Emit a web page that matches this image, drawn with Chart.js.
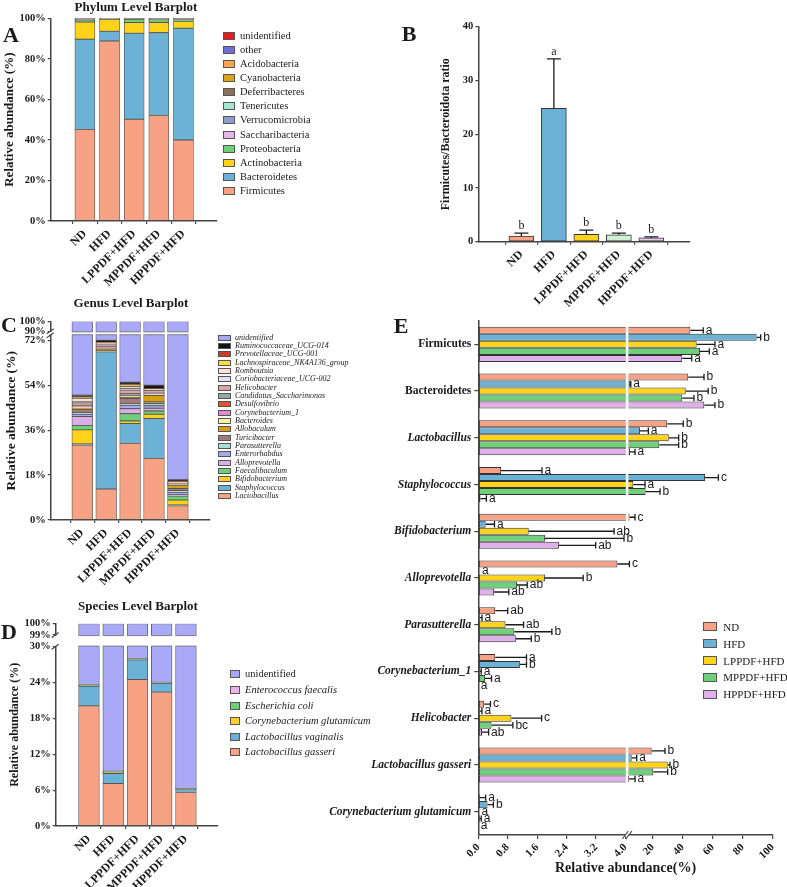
<!DOCTYPE html>
<html>
<head>
<meta charset="utf-8">
<script src="https://cdn.jsdelivr.net/npm/chart.js@4.4.0/dist/chart.umd.min.js"></script>
<style>
  body { margin: 0; background: #fff; }
  #wrap { position: relative; width: 787px; height: 887px; overflow: hidden; background: #fff;
          font-family: 'Liberation Serif', serif; color: #1a1a1a; }
  #wrap canvas { position: absolute; left: 0; top: 0; }
  .t { position: absolute; transform: translate(-50%, -50%); white-space: nowrap; font-weight: bold; line-height: 1; }
  .row { position: absolute; }
  .row .b { position: absolute; box-sizing: border-box; border: 1px solid #555; }
  .row .tx { position: absolute; top: 0; transform: translateY(-50%); white-space: nowrap; line-height: 1; }
</style>
</head>
<body>
<div id="wrap">
  <canvas id="cA" width="787" height="887"></canvas>
  <canvas id="cB" width="787" height="887"></canvas>
  <canvas id="cC" width="787" height="887"></canvas>
  <canvas id="cD" width="787" height="887"></canvas>
  <canvas id="cE" width="787" height="887"></canvas>

  <div class="t" style="left:136px;top:6px;font-size:13px">Phylum Level Barplot</div>
  <div class="t" style="left:131px;top:302px;font-size:13px">Genus Level Barplot</div>
  <div class="t" style="left:138px;top:605px;font-size:13px">Species Level Barplot</div>
  <div class="t" style="left:11px;top:35px;font-size:22px">A</div>
  <div class="t" style="left:409px;top:34px;font-size:22px">B</div>
  <div class="t" style="left:9px;top:325px;font-size:22px">C</div>
  <div class="t" style="left:9px;top:632px;font-size:22px">D</div>
  <div class="t" style="left:401px;top:326px;font-size:22px">E</div>
</div>

<script>
const groups = ['ND', 'HFD', 'LPPDF+HFD', 'MPPDF+HFD', 'HPPDF+HFD'];

// A: phylum level, % per group, listed from the bottom of the stack up
const phylumNames = ['Firmicutes', 'Bacteroidetes', 'Actinobacteria', 'Proteobacteria', 'Saccharibacteria',
  'Verrucomicrobia', 'Tenericutes', 'Deferribacteres', 'Cyanobacteria', 'Acidobacteria', 'other', 'unidentified'];
const phylumND    = [45.2, 44.5, 8.5, 0.9, 0.1, 0.1, 0.2, 0.1, 0.1, 0.1, 0.1, 0.1];
const phylumHFD   = [88.8, 4.8, 5.9, 0.2, 0.05, 0.05, 0.05, 0.05, 0.05, 0, 0.05, 0];
const phylumLPPDF = [50.2, 42.4, 5.3, 1.6, 0.1, 0.1, 0.1, 0.05, 0.05, 0, 0.05, 0.05];
const phylumMPPDF = [52.1, 40.8, 5.0, 1.4, 0.2, 0.1, 0.2, 0.05, 0.05, 0, 0.05, 0.05];
const phylumHPPDF = [40.0, 55.1, 3.3, 1.0, 0.2, 0.1, 0.1, 0.05, 0.05, 0, 0.05, 0.05];
const phylumTicks = [0, 20, 40, 60, 80, 100];

// B: Firmicutes/Bacteroidota ratio
const fbRatio   = [1.05, 24.8, 1.36, 1.3, 0.7];
const fbError   = [0.55, 9.2, 0.8, 0.3, 0.2];
const fbLetters = ['b', 'a', 'b', 'b', 'b'];

// C: genus level
const genusNames = ['Lactobacillus', 'Staphylococcus', 'Bifidobacterium', 'Faecalibaculum', 'Alloprevotella',
  'Enterorhabdus', 'Parasutterella', 'Turicibacter', 'Allobaculum', 'Bacteroides', 'Corynebacterium_1',
  'Desulfovibrio', 'Candidatus_Saccharimonas', 'Helicobacter', 'Coriobacteriaceae_UCG-002', 'Romboutsia',
  'Lachnospiraceae_NK4A136_group', 'Prevotellaceae_UCG-001', 'Ruminococcaceae_UCG-014', 'unidentified'];
const genusND    = [30.0, 0.5, 5.6, 1.7, 3.7, 0.9, 0.5, 1.5, 0.4, 0.4, 0.4, 0.3, 0.6, 0.5, 0.3, 1.5, 0.3, 0.2, 0.7, 50.0];
const genusHFD   = [12.4, 55.0, 0.1, 0.2, 0.0, 0.1, 0.0, 0.8, 0.1, 0.2, 0.5, 0.2, 0.3, 0.0, 0.4, 0.6, 0.1, 0.1, 0.9, 28.0];
const genusLPPDF = [30.7, 8.0, 1.0, 2.9, 2.0, 1.4, 0.5, 2.2, 0.3, 0.8, 0.1, 0.1, 0.6, 1.5, 0.6, 0.7, 0.8, 0.2, 0.8, 44.8];
const genusMPPDF = [24.7, 16.0, 1.7, 1.3, 1.1, 1.0, 0.9, 0.6, 2.6, 0.7, 0.1, 0.1, 0.3, 0.9, 0.3, 0.1, 0.1, 0.1, 1.4, 46.0];
const genusHPPDF = [5.7, 0.3, 2.0, 1.6, 0.5, 1.0, 0.6, 0.9, 1.2, 0.5, 0.1, 0.1, 0.2, 0.1, 0.1, 0.1, 0.3, 0.1, 0.7, 83.9];
const genusTicks = [0, 18, 36, 54, 72, 90, 100];

// D: species level
const speciesNames = ['Lactobacillus gasseri', 'Lactobacillus vaginalis', 'Corynebacterium glutamicum',
  'Escherichia coli', 'Enterococcus faecalis', 'unidentified'];
const speciesND    = [20.1, 3.3, 0.1, 0.05, 0.05, 76.4];
const speciesHFD   = [7.1, 1.7, 0.2, 0.1, 0.05, 90.85];
const speciesLPPDF = [24.5, 3.3, 0.05, 0.05, 0.05, 72.05];
const speciesMPPDF = [22.4, 1.5, 0.05, 0.05, 0.05, 75.95];
const speciesHPPDF = [5.6, 0.5, 0.05, 0.05, 0.05, 93.75];
const speciesTicks = [0, 6, 12, 18, 24, 30, 99, 100];

// E: relative abundance of key taxa (mean, error, significance letters)
const eTaxa = ['Firmicutes', 'Bacteroidetes', 'Lactobacillus', 'Staphylococcus', 'Bifidobacterium',
  'Alloprevotella', 'Parasutterella', 'Corynebacterium_1', 'Helicobacter', 'Lactobacillus gasseri',
  'Corynebacterium glutamicum'];
const eND        = [45.1, 43.7, 29.7, 0.62, 4.6, 3.78, 0.46, 0.46, 0.16, 19.3, 0.04];
const eNDErr     = [8.6, 10.5, 10.7, 1.11, 3.6, 0.7, 0.34, 0.85, 0.17, 8.9, 0.16];
const eNDSig     = ['a', 'b', 'b', 'a', 'c', 'c', 'ab', 'a', 'c', 'b', 'a'];
const eHFD       = [89.3, 4.8, 11.5, 54.9, 0.20, 0.03, 0.04, 1.13, 0.04, 6.0, 0.25];
const eHFDErr    = [2.7, 0.6, 5.6, 8.9, 0.24, 0, 0.06, 0.18, 0.06, 3.3, 0.16];
const eHFDSig    = ['b', 'a', 'a', 'c', 'a', 'a', 'a', 'b', 'a', 'a', 'b'];
const eLPPDF     = [49.3, 42.0, 30.7, 7.1, 1.37, 1.81, 0.74, 0.04, 0.9, 30.0, 0.01];
const eLPPDFErr  = [12.2, 15.0, 6.6, 7.8, 2.32, 1.04, 0.49, 0.04, 0.82, 1.5, 0.01];
const eLPPDFSig  = ['a', 'b', 'b', 'a', 'ab', 'b', 'ab', 'a', 'c', 'b', 'a'];
const eMPPDF     = [51.5, 39.7, 24.4, 15.3, 1.81, 1.05, 0.98, 0.18, 0.36, 20.4, 0.04];
const eMPPDFErr  = [6.2, 7.8, 12.9, 9.6, 2.15, 0.28, 1.02, 0.18, 0.58, 9.6, 0.04];
const eMPPDFSig  = ['a', 'b', 'b', 'b', 'b', 'ab', 'b', 'a', 'bc', 'b', 'a'];
const eHPPDF     = [39.7, 54.4, 4.9, 0.06, 2.19, 0.43, 1.02, 0, 0.1, 4.2, 0];
const eHPPDFErr  = [6.3, 7.1, 3.3, 0.16, 1.0, 0.4, 0.42, 0, 0.18, 4.0, 0];
const eHPPDFSig  = ['a', 'b', 'a', 'a', 'ab', 'ab', 'b', 'a', 'ab', 'a', 'a'];
const eTicks      = [0, 0.8, 1.6, 2.4, 3.2, 4, 20, 40, 60, 80, 100];
const eTickLabels = ['0.0', '0.8', '1.6', '2.4', '3.2', '4.0', '20', '40', '60', '80', '100'];

// colours
const salmon = '#F8A285', blue = '#6BB2D6', yellow = '#FFD31A', green = '#6FD07A', lilac = '#DFB0EA', lavender = '#A9A9F7';
const phylumColors = [salmon, blue, yellow, green, '#E8B5E8', '#8E9DC3', '#A8E4D4', '#8B6F5E', '#D6A712', '#F9A54D', '#6F6FDB', '#E41A1C'];
const genusColors = [salmon, blue, yellow, green, '#DCAEE6', '#A5AEE6', '#ABDED8', '#A27A7A', '#D4A20E', '#FAF3A0',
  '#E08BD0', '#E5522A', '#98A6AA', '#D9A3A3', '#E9E0F5', '#FBE3D3', '#F4E03C', '#CC3B2B', '#151515', lavender];
const speciesColors = [salmon, blue, yellow, green, '#E8B5E8', lavender];
const groupColors = [salmon, blue, yellow, green, lilac];
const ratioColors = [salmon, blue, yellow, '#CFF0D2', '#E9C9F0'];

// broken axes
const toAxisC = v => v <= 74 ? v : v >= 90 ? 75.6 + (v - 90) * 0.393 : 74 + (v - 74) / 16 * 1.6;
const toAxisD = v => v <= 30 ? v : v >= 99 ? 31.96 + (v - 99) * 1.891 : 30 + (v - 30) / 69 * 1.96;
const toAxisE = v => v <= 4 ? v * 36.8 : 174.4 + (v - 20) * 1.5;

Chart.defaults.font.family = "'Liberation Serif', serif";
Chart.defaults.color = '#1a1a1a';
Chart.defaults.plugins.legend.display = false;
Chart.defaults.plugins.tooltip.enabled = false;

const axisGrid = { display: true, drawOnChartArea: false, drawTicks: true, tickLength: 3, tickColor: '#444', lineWidth: 1.2 };
const axisBorder = { display: true, color: '#444', width: 1.5 };

function groupAxis(min, max, height, size) {
  return {
    type: 'linear', min, max, stacked: true,
    afterBuildTicks: s => { s.ticks = groups.map((g, i) => ({ value: i })); },
    afterFit: s => { s.height = height; },
    ticks: { callback: v => groups[v], autoSkip: false, minRotation: 45, maxRotation: 45, padding: 3,
             font: { size: size, weight: 'bold' } },
    grid: axisGrid, border: axisBorder
  };
}

function yTitle(text, size, pad) {
  return { display: true, text, font: { size, weight: 'bold' }, padding: { top: pad, bottom: 0 } };
}

function transpose(rows) { return rows[0].map((_, k) => rows.map(r => r[k])); }

function floating(rows, map) {
  return rows[0].map((_, k) => rows.map((r, i) => {
    const lo = r.slice(0, k).reduce((a, b) => a + b, 0);
    const hi = k === r.length - 1 ? 100 : lo + r[k];
    return { x: i, y: [map(lo), map(hi)] };
  }));
}

function htmlLegend(names, colors, o) {
  const wrap = document.getElementById('wrap');
  names.forEach((n, i) => {
    const row = document.createElement('div');
    row.className = 'row';
    row.style.left = o.x + 'px';
    row.style.top = (o.y + i * o.dy) + 'px';
    const box = document.createElement('span');
    box.className = 'b';
    box.style.cssText = `left:0;top:${-o.bh / 2}px;width:${o.bw}px;height:${o.bh}px;background:${colors[i]}`;
    const txt = document.createElement('span');
    txt.className = 'tx';
    txt.textContent = n;
    txt.style.cssText = `left:${o.tx}px;font-size:${o.size}px;font-style:${o.italic(i) ? 'italic' : 'normal'}`;
    row.append(box, txt);
    wrap.appendChild(row);
  });
}

// error bars + significance letters, reads dataset.errTo / dataset.marks
const errorBars = {
  id: 'errorBars',
  afterDatasetsDraw(chart, args, o) {
    const ctx = chart.ctx;
    const horiz = chart.options.indexAxis === 'y';
    const vs = horiz ? chart.scales.x : chart.scales.y;
    ctx.save();
    ctx.strokeStyle = '#1a1a1a';
    ctx.fillStyle = '#1a1a1a';
    ctx.lineWidth = 1.3;
    ctx.font = o.font;
    chart.data.datasets.forEach((ds, di) => {
      chart.getDatasetMeta(di).data.forEach((bar, i) => {
        const tip = vs.getPixelForValue(ds.errTo[i]);
        ctx.beginPath();
        if (horiz) {
          if (tip - bar.x > 0.5) {
            ctx.moveTo(bar.x, bar.y); ctx.lineTo(tip, bar.y);
            ctx.moveTo(tip, bar.y - o.cap); ctx.lineTo(tip, bar.y + o.cap);
          }
          ctx.stroke();
          ctx.textAlign = 'left';
          ctx.textBaseline = 'middle';
          ctx.fillText(ds.marks[i], Math.max(tip, bar.x) + o.gap, bar.y);
        } else {
          ctx.moveTo(bar.x, bar.y); ctx.lineTo(bar.x, tip);
          ctx.moveTo(bar.x - o.cap, tip); ctx.lineTo(bar.x + o.cap, tip);
          ctx.stroke();
          ctx.textAlign = 'center';
          ctx.textBaseline = 'bottom';
          ctx.fillText(ds.marks[i], bar.x, tip - o.gap);
        }
      });
    });
    ctx.restore();
  }
};

// white gap for vertical broken axes (C, D)
function yBreak(lowTop, highBottom) {
  return {
    id: 'yBreak',
    afterDraw(chart) {
      const { ctx, chartArea: a, scales: { y } } = chart;
      const y1 = y.getPixelForValue(highBottom), y2 = y.getPixelForValue(lowTop);
      ctx.save();
      ctx.fillStyle = '#fff';
      ctx.fillRect(a.left - 3, y1 + 0.6, a.right - a.left + 6, y2 - y1 - 1.2);
      ctx.strokeStyle = '#666';
      ctx.lineWidth = 0.8;
      const meta = chart.getDatasetMeta(chart.data.datasets.length - 1);
      meta.data.forEach(b => {
        ctx.beginPath();
        ctx.moveTo(b.x - b.width / 2, y1 + 0.6); ctx.lineTo(b.x + b.width / 2, y1 + 0.6);
        ctx.moveTo(b.x - b.width / 2, y2 - 0.6); ctx.lineTo(b.x + b.width / 2, y2 - 0.6);
        ctx.stroke();
      });
      ctx.strokeStyle = '#444';
      ctx.lineWidth = 1.2;
      [y1, y2].forEach(p => {
        ctx.beginPath(); ctx.moveTo(a.left - 4, p + 2.5); ctx.lineTo(a.left + 3, p - 2.5); ctx.stroke();
      });
      ctx.restore();
    }
  };
}

// white gap for the horizontal broken axis (E)
const xBreakE = {
  id: 'xBreakE',
  afterDatasetsDraw(chart) {
    const { ctx, chartArea: a, scales: { x } } = chart;
    const px = (x.getPixelForValue(toAxisE(4)) + x.getPixelForValue(toAxisE(4.01))) / 2;
    ctx.save();
    ctx.fillStyle = '#fff';
    ctx.fillRect(px - 1.3, a.top, 2.6, a.bottom - a.top - 3);
    ctx.restore();
  },
  afterDraw(chart) {
    const { ctx, chartArea: a, scales: { x } } = chart;
    const px = (x.getPixelForValue(toAxisE(4)) + x.getPixelForValue(toAxisE(4.01))) / 2;
    ctx.save();
    ctx.fillStyle = '#fff';
    ctx.fillRect(px - 1.5, a.bottom - 2, 3, 4);
    ctx.strokeStyle = '#444';
    ctx.lineWidth = 1.1;
    [-1.8, 1.8].forEach(d => {
      ctx.beginPath(); ctx.moveTo(px + d - 3, a.bottom + 4); ctx.lineTo(px + d + 3, a.bottom - 4); ctx.stroke();
    });
    ctx.restore();
  }
};

// ---------- A ----------
const phylumRows = [phylumND, phylumHFD, phylumLPPDF, phylumMPPDF, phylumHPPDF];
new Chart(document.getElementById('cA'), {
  type: 'bar',
  data: {
    datasets: transpose(phylumRows).map((vals, k) => ({
      label: phylumNames[k],
      data: vals.map((v, i) => ({ x: i, y: v })),
      backgroundColor: phylumColors[k], borderColor: '#555', borderWidth: 0.8, borderSkipped: false,
      barThickness: 20
    }))
  },
  options: {
    responsive: false, animation: false, devicePixelRatio: 1,
    layout: { padding: { left: 0, right: 570.3, top: 18.3, bottom: 0 } },
    scales: {
      x: groupAxis(-0.714, 4.675, 666, 12),
      y: {
        min: 0, max: 100, stacked: true,
        afterBuildTicks: s => { s.ticks = phylumTicks.map(v => ({ value: v })); },
        afterFit: s => { s.width = 50.7; },
        ticks: { callback: v => v + '%', padding: 2, font: { size: 10.5, weight: 'bold' } },
        title: yTitle('Relative abundance (%)', 13, 2.2),
        grid: axisGrid, border: axisBorder
      }
    }
  }
});

// ---------- B ----------
new Chart(document.getElementById('cB'), {
  type: 'bar',
  data: {
    datasets: [{
      label: 'Firmicutes/Bacteroidota ratio',
      data: fbRatio.map((v, i) => ({ x: i, y: v })),
      errTo: fbRatio.map((v, i) => v + fbError[i]),
      marks: fbLetters,
      backgroundColor: ratioColors, borderColor: '#333', borderWidth: 1, borderSkipped: false,
      barThickness: 25
    }]
  },
  options: {
    responsive: false, animation: false, devicePixelRatio: 1,
    layout: { padding: { left: 438.8, right: 97, top: 26.7, bottom: 0 } },
    plugins: { errorBars: { cap: 7, gap: 1, font: "12px 'Liberation Serif'" } },
    scales: {
      x: groupAxis(-0.675, 4.539, 645.3, 12),
      y: {
        min: 0, max: 40,
        ticks: { stepSize: 10, padding: 2, font: { size: 10.5, weight: 'bold' } },
        afterFit: s => { s.width = 39.5; },
        title: yTitle('Firmicutes/Bacteroidota ratio', 12, 0),
        grid: axisGrid, border: axisBorder
      }
    }
  },
  plugins: [errorBars]
});

// ---------- C ----------
const genusRows = [genusND, genusHFD, genusLPPDF, genusMPPDF, genusHPPDF];
new Chart(document.getElementById('cC'), {
  type: 'bar',
  data: {
    datasets: floating(genusRows, toAxisC).map((pts, k) => ({
      label: genusNames[k], data: pts,
      backgroundColor: genusColors[k], borderColor: '#555', borderWidth: 0.8, borderSkipped: false,
      barThickness: 20.7
    }))
  },
  options: {
    responsive: false, animation: false, devicePixelRatio: 1,
    layout: { padding: { left: 0, right: 577.7, top: 321.5, bottom: 0 } },
    scales: {
      x: groupAxis(-0.656, 4.649, 367, 12),
      y: {
        min: 0, max: toAxisC(100), stacked: false,
        afterBuildTicks: s => { s.ticks = genusTicks.map(v => ({ value: toAxisC(v) })); },
        afterFit: s => { s.width = 50.7; },
        ticks: { callback: (v, i) => genusTicks[i] + '%', padding: 2, font: { size: 10.5, weight: 'bold' } },
        title: yTitle('Relative abundance (%)', 13.5, 3.6),
        grid: axisGrid, border: axisBorder
      }
    }
  },
  plugins: [yBreak(74, toAxisC(90))]
});

// ---------- D ----------
const speciesRows = [speciesND, speciesHFD, speciesLPPDF, speciesMPPDF, speciesHPPDF];
new Chart(document.getElementById('cD'), {
  type: 'bar',
  data: {
    datasets: floating(speciesRows, toAxisD).map((pts, k) => ({
      label: speciesNames[k], data: pts,
      backgroundColor: speciesColors[k], borderColor: '#555', borderWidth: 0.8, borderSkipped: false,
      barThickness: 20.7
    }))
  },
  options: {
    responsive: false, animation: false, devicePixelRatio: 1,
    layout: { padding: { left: 0, right: 569, top: 623.7, bottom: 0 } },
    scales: {
      x: groupAxis(-0.703, 4.653, 61, 12),
      y: {
        min: 0, max: toAxisD(100), stacked: false,
        afterBuildTicks: s => { s.ticks = speciesTicks.map(v => ({ value: toAxisD(v) })); },
        afterFit: s => { s.width = 55.7; },
        ticks: { callback: (v, i) => speciesTicks[i] + '%', padding: 2, font: { size: 10.5, weight: 'bold' } },
        title: yTitle('Relative abundance (%)', 12, 7.8),
        grid: axisGrid, border: axisBorder
      }
    }
  },
  plugins: [yBreak(30, toAxisD(99))]
});

// ---------- E ----------
const eValues = [eND, eHFD, eLPPDF, eMPPDF, eHPPDF];
const eErrors = [eNDErr, eHFDErr, eLPPDFErr, eMPPDFErr, eHPPDFErr];
const eSig = [eNDSig, eHFDSig, eLPPDFSig, eMPPDFSig, eHPPDFSig];
new Chart(document.getElementById('cE'), {
  type: 'bar',
  data: {
    labels: eTaxa,
    datasets: groups.map((g, j) => ({
      label: g,
      data: eValues[j].map(toAxisE),
      errTo: eValues[j].map((v, i) => toAxisE(v + eErrors[j][i])),
      marks: eSig[j],
      backgroundColor: groupColors[j], borderColor: '#333', borderWidth: 1, borderSkipped: false,
      categoryPercentage: 0.75, barPercentage: 1
    }))
  },
  options: {
    indexAxis: 'y',
    responsive: false, animation: false, devicePixelRatio: 1,
    layout: { padding: { left: 0, right: 14.3, top: 321, bottom: 0 } },
    plugins: { errorBars: { cap: 3.2, gap: 2.5, font: "12px 'Liberation Sans'" } },
    scales: {
      x: {
        type: 'linear', min: 0, max: toAxisE(100),
        afterBuildTicks: s => { s.ticks = eTicks.map(v => ({ value: toAxisE(v) })); },
        afterFit: s => { s.height = 52; },
        ticks: { callback: (v, i) => eTickLabels[i], autoSkip: false, minRotation: 45, maxRotation: 45, padding: 2,
                 font: { size: 11, weight: 'bold' } },
        title: { display: true, text: 'Relative abundance(%)', font: { size: 14, weight: 'bold' },
                 padding: { top: 0, bottom: 10.6 } },
        grid: { ...axisGrid, tickLength: 4 }, border: axisBorder
      },
      y: {
        afterFit: s => { s.width = 478.3; },
        ticks: { padding: 3, font: ctx => ({ size: 11.5, weight: 'bold', style: ctx.index < 2 ? 'normal' : 'italic' }) },
        grid: { ...axisGrid, tickLength: 4, offset: false }, border: axisBorder
      }
    }
  },
  plugins: [xBreakE, errorBars]
});

// ---------- legends ----------
const rev = a => a.slice().reverse();
htmlLegend(rev(phylumNames), rev(phylumColors),
  { x: 223, y: 35.7, dy: 14.12, bw: 12, bh: 8, tx: 17, size: 10.5, italic: () => false });
htmlLegend(rev(genusNames), rev(genusColors),
  { x: 218, y: 337.7, dy: 8.33, bw: 13, bh: 6, tx: 17, size: 8, italic: () => true });
htmlLegend(rev(speciesNames), rev(speciesColors),
  { x: 230, y: 674.3, dy: 15.6, bw: 10, bh: 8, tx: 15, size: 10.5, italic: i => i > 0 });
htmlLegend(groups, groupColors,
  { x: 703.3, y: 626.7, dy: 16.9, bw: 13.3, bh: 9, tx: 20, size: 11, italic: () => false });
</script>
</body>
</html>
